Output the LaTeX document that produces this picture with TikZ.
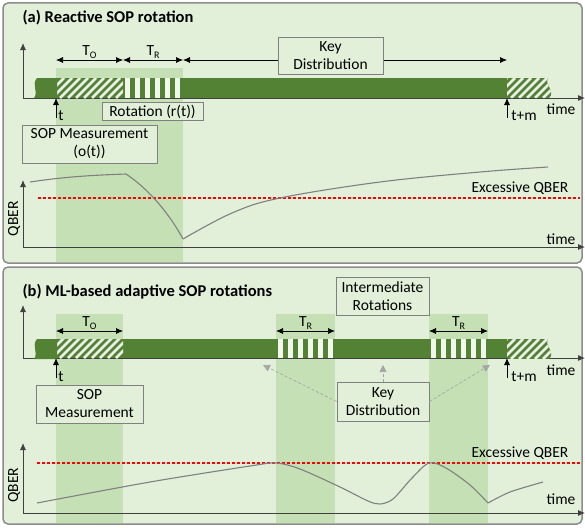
\documentclass[tikz,border=0pt]{standalone}
\usepackage{fontspec}
\setmainfont{Carlito}
\usetikzlibrary{arrows.meta, positioning}
\definecolor{panelbg}{HTML}{E2F0D9}
\definecolor{shadegreen}{HTML}{C5E0B4}
\definecolor{bargreen}{HTML}{548235}
\definecolor{framegray}{HTML}{8C8C8C}
\definecolor{boxgray}{HTML}{808080}
\definecolor{stripewhite}{HTML}{F2F7EE}
\definecolor{limitred}{HTML}{FF0000}

\newcommand{\lowidx}[1]{\raisebox{-0.45ex}{\fontsize{10}{10}\selectfont #1}}
% bar segment with diagonal hatch: x1, x2, ytop, ybot
\newcommand{\hatchbar}[4]{%
  \begin{scope}
    \clip (#1,#3) rectangle (#2,#4);
    \fill[bargreen] (#1,#3) rectangle (#2,#4);
    \foreach \hx in {-20,-12,...,80} \draw[hatchline] ({#1+\hx},#4) -- ++(20,-20);
  \end{scope}}
% bar segment with vertical stripes
\newcommand{\stripebar}[4]{%
  \fill[bargreen] (#1,#3) rectangle (#2,#4);
  \foreach \sx in {2,12,...,52} \fill[stripewhite] ({#1+\sx},#3) rectangle ({#1+\sx+4.5},#4);}
% wavy bar ends, #1 = top of bar
\newcommand{\barends}[1]{%
  \fill[bargreen] (37,#1) .. controls (31,{#1+7}) and (39,{#1+13}) .. (34,{#1+20}) -- (57,{#1+20}) -- (57,#1) -- cycle;
  \begin{scope}
    \clip (507,#1) -- (548,#1) .. controls (544,{#1+7}) and (556,{#1+13}) .. (549,{#1+20}) -- (507,{#1+20}) -- cycle;
    \fill[bargreen] (500,#1) rectangle (560,{#1+20});
    \foreach \hx in {-20,-12,...,50} \draw[hatchline] ({507+\hx},{#1+20}) -- ++(20,-20);
  \end{scope}}

\begin{document}
\begin{tikzpicture}[x=1pt, y=-1pt,
  font=\fontsize{15.5}{18}\selectfont,
  panel/.style={draw=framegray, line width=1.5pt, rounded corners=5pt, fill=panelbg},
  shade/.style={fill=shadegreen},
  lbl/.style={draw=boxgray, line width=0.8pt, fill=panelbg, align=center, inner sep=0pt},
  axis/.style={-{Latex[length=7pt,width=6pt]}, line width=0.9pt, draw=black!75},
  dim/.style={{Latex[length=7pt,width=6pt]}-{Latex[length=7pt,width=6pt]}, line width=0.7pt},
  tick/.style={-{Latex[length=7pt,width=6pt]}, line width=0.8pt},
  qber/.style={draw=boxgray, line width=1.1pt},
  limit/.style={draw=limitred, dash pattern=on 3pt off 2pt, line width=1.2pt},
  hint/.style={draw=gray!70, dash pattern=on 3pt off 2pt, line width=0.7pt, -{Triangle[length=7pt,width=7pt]}},
  hatchline/.style={draw=white!88!bargreen, line width=2.5pt},
  title/.style={anchor=west, font=\fontsize{16.5}{18}\selectfont\bfseries}
]
  \useasboundingbox (0,0) rectangle (585,527);

  % ---------- (a) reactive ----------
  \draw[panel] (3,3) rectangle (582,263);
  \fill[shade] (56,68) rectangle (183,262);
  \node[title] (titlea) at (19,18) {(a) Reactive SOP rotation};

  \coordinate (oa) at (23,98);
  \coordinate (ya) at (23,43);
  \coordinate (xa) at (585,98);
  \draw[axis] (oa) -- (ya);
  \draw[axis] (oa) -- (xa);

  \fill[bargreen] (56,78) rectangle (507,98);
  \hatchbar{56}{123}{78}{98}
  \stripebar{123}{183}{78}{98}
  \barends{78}

  \coordinate (oa1) at (56,60);
  \coordinate (oa2) at (123,60);
  \coordinate (ra2) at (183,60);
  \coordinate (ka2) at (507,60);
  \draw[dim] (oa1) -- (oa2);
  \draw[dim] (oa2) -- (ra2);
  \draw[dim] (ra2) -- (ka2);
  \node (toa) at (89.5,52) {T\lowidx{O}};
  \node (tra) at (153,52) {T\lowidx{R}};
  \node[lbl, minimum width=105pt, minimum height=37pt] (kda) at (330.5,55.5) {Key\\Distribution};

  \coordinate (ta0) at (56,118);
  \coordinate (ta1) at (56,98);
  \coordinate (ma0) at (507,118);
  \coordinate (ma1) at (507,98);
  \draw[tick] (ta0) -- (ta1);
  \draw[tick] (ma0) -- (ma1);
  \node (tlba) at (61,116) {t};
  \node (mlba) at (524,116) {t+m};
  \node (timea) at (561,109) {time};

  \node[lbl, minimum width=101pt, minimum height=18pt] (rota) at (152.5,111.5) {Rotation (r(t))};
  \node[lbl, minimum width=135pt, minimum height=38pt] (sopa) at (89.5,144) {SOP Measurement\\(o(t))};

  % QBER (a)
  \coordinate (qa) at (23,247);
  \coordinate (qay) at (23,180);
  \coordinate (qax) at (585,247);
  \draw[axis] (qa) -- (qay);
  \draw[axis] (qa) -- (qax);
  \node[rotate=90] (qlba) at (14,219) {QBER};
  \coordinate (lima1) at (38,198);
  \coordinate (lima2) at (580,198);
  \draw[limit] (lima1) -- (lima2);
  \node (exa) at (520,188) {Excessive QBER};
  \node (tqa) at (561,239) {time};
  \draw[qber] (30,182) .. controls (70,176) and (100,175) .. (126,174)
    .. controls (150,190) and (170,215) .. (183,239);
  \draw[qber] plot[smooth, tension=0.6] coordinates {(183,239) (232,213) (280,198) (380,182) (480,172) (548,167)};

  % ---------- (b) ML-based ----------
  \draw[panel] (3,267) rectangle (582,524);
  \fill[shade] (56,314) rectangle (123,523);
  \fill[shade] (276,314) rectangle (335,523);
  \fill[shade] (429,314) rectangle (488,523);
  \node[title] (titleb) at (19,292) {(b) ML-based adaptive SOP rotations};

  \coordinate (ob) at (23,358);
  \coordinate (yb) at (23,305);
  \coordinate (xb) at (585,358);
  \draw[axis] (ob) -- (yb);
  \draw[axis] (ob) -- (xb);

  \fill[bargreen] (56,339) rectangle (507,358);
  \hatchbar{56}{123}{339}{358}
  \stripebar{276}{335}{339}{358}
  \stripebar{429}{488}{339}{358}
  \barends{339}

  \coordinate (ob1) at (56,331);
  \coordinate (ob2) at (123,331);
  \coordinate (rb1) at (276,331);
  \coordinate (rb2) at (335,331);
  \coordinate (rc1) at (429,331);
  \coordinate (rc2) at (488,331);
  \draw[dim] (ob1) -- (ob2);
  \draw[dim] (rb1) -- (rb2);
  \draw[dim] (rc1) -- (rc2);
  \node (tob) at (89.5,323) {T\lowidx{O}};
  \node (trb) at (305.5,323) {T\lowidx{R}};
  \node (trc) at (458.5,323) {T\lowidx{R}};
  \node[lbl, minimum width=93pt, minimum height=38pt] (intb) at (382.5,296) {Intermediate\\Rotations};

  \coordinate (tb0) at (56,378);
  \coordinate (tb1) at (56,358);
  \coordinate (mb0) at (507,378);
  \coordinate (mb1) at (507,358);
  \draw[tick] (tb0) -- (tb1);
  \draw[tick] (mb0) -- (mb1);
  \node (tlbb) at (61,377) {t};
  \node (mlbb) at (524,377) {t+m};
  \node (timeb) at (561,370) {time};

  \node[lbl, minimum width=107pt, minimum height=38pt] (sopb) at (89.5,404) {SOP\\Measurement};
  \node[lbl, minimum width=92pt, minimum height=39pt] (kdb) at (383,401.5) {Key\\Distribution};
  \coordinate (kd1) at (263,365);
  \coordinate (kd2) at (383,365);
  \coordinate (kd3) at (490,365);
  \draw[hint] (kdb.west) -- (kd1);
  \draw[hint] (kdb.north) -- (kd2);
  \draw[hint] (kdb.east) -- (kd3);

  % QBER (b)
  \coordinate (qb) at (23,513);
  \coordinate (qby) at (23,443);
  \coordinate (qbx) at (585,513);
  \draw[axis] (qb) -- (qby);
  \draw[axis] (qb) -- (qbx);
  \node[rotate=90] (qlbb) at (14,485) {QBER};
  \coordinate (limb1) at (37,463);
  \coordinate (limb2) at (580,463);
  \draw[limit] (limb1) -- (limb2);
  \node (exb) at (520,453) {Excessive QBER};
  \node (tqb) at (561,499) {time};
  \draw[qber] plot[smooth, tension=0.5] coordinates {(37,503) (150,482) (250,466) (276,463) (300,469) (340,487) (368,501) (380,504) (393,499) (412,478) (429,463) (446,468) (470,485) (488,503)};
  \draw[qber] plot[smooth, tension=0.5] coordinates {(488,503) (510,492) (543,482)};
\end{tikzpicture}
\end{document}
